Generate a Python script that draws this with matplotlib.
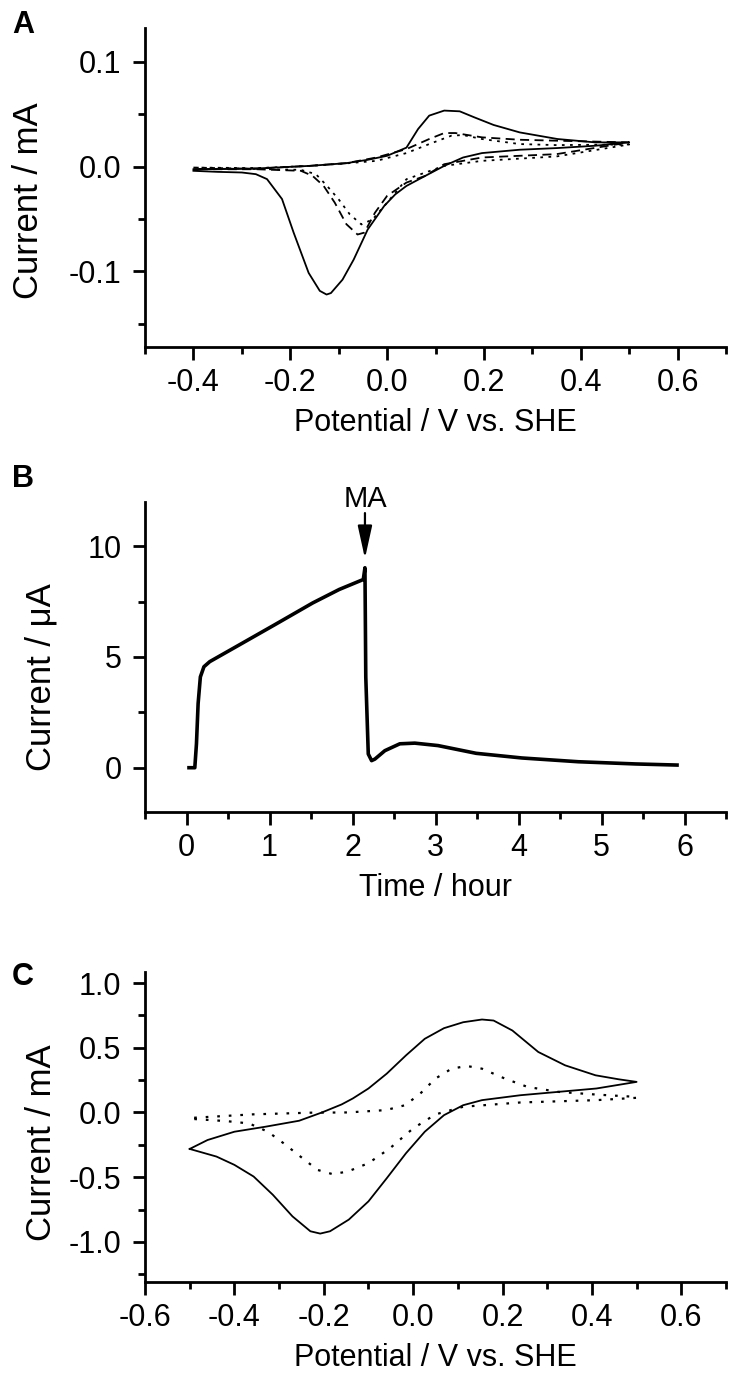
import matplotlib
matplotlib.use("Agg")
import matplotlib.pyplot as plt
from matplotlib.ticker import MultipleLocator

plt.rcParams['font.family'] = ['Liberation Sans', 'DejaVu Sans']

# ---- panel A: CVs (potential V vs SHE, current mA)
a_solid_v = [-0.40, -0.27, -0.16, -0.084, -0.04, 0.0, 0.04, 0.064, 0.087, 0.118, 0.15, 0.18, 0.22, 0.274, 0.352, 0.43, 0.50,
             0.43, 0.352, 0.274, 0.196, 0.157, 0.118, 0.079, 0.04, 0.017, -0.006, -0.04, -0.069, -0.092, -0.116, -0.125,
             -0.139, -0.162, -0.193, -0.217, -0.248, -0.271, -0.30, -0.35, -0.40]
a_solid_i = [-0.0026, -0.0019, 0.0006, 0.0032, 0.0064, 0.0102, 0.018, 0.0357, 0.0485, 0.0533, 0.0526, 0.0469, 0.0396, 0.0325, 0.0262, 0.023, 0.023,
             0.0198, 0.0176, 0.016, 0.0128, 0.0086, 0.0006, -0.0089, -0.0185, -0.0265, -0.0376, -0.060, -0.0887, -0.1078, -0.1206, -0.122,
             -0.1185, -0.1014, -0.063, -0.031, -0.012, -0.0073, -0.0057, -0.0051, -0.0041]

a_dash_v = [-0.40, -0.27, -0.16, -0.084, -0.022, 0.04, 0.087, 0.118, 0.141, 0.196, 0.274, 0.35, 0.50,
            0.35, 0.196, 0.118, 0.079, 0.04, 0.0, -0.025, -0.047, -0.061, -0.084, -0.108, -0.131, -0.154, -0.178, -0.27, -0.40]
a_dash_i = [-0.0026, -0.0019, 0.0006, 0.0032, 0.0086, 0.0166, 0.0262, 0.0319, 0.0319, 0.0278, 0.0255, 0.0246, 0.023,
            0.0118, 0.0086, 0.0022, -0.0089, -0.0153, -0.028, -0.044, -0.063, -0.0648, -0.055, -0.0345, -0.0185, -0.0089, -0.0041, -0.0026, -0.0026]

a_dot_v = [-0.40, -0.27, -0.16, -0.084, -0.022, 0.04, 0.087, 0.133, 0.157, 0.196, 0.274, 0.35, 0.50,
           0.35, 0.196, 0.118, 0.04, 0.0, -0.03, -0.053, -0.077, -0.10, -0.124, -0.147, -0.178, -0.40]
a_dot_i = [-0.001, -0.0015, 0.0006, 0.003, 0.0054, 0.0128, 0.0214, 0.0294, 0.030, 0.0262, 0.0214, 0.0204, 0.021,
           0.0096, 0.0054, 0.0006, -0.0121, -0.0345, -0.0504, -0.0552, -0.0456, -0.0313, -0.0185, -0.0073, -0.0032, -0.001]

# ---- panel B: chronoamperometry (hour, uA)
b_t = [0.03, 0.10, 0.12, 0.14, 0.167, 0.21, 0.28, 0.60, 1.06, 1.52, 1.84, 2.13, 2.15, 2.16, 2.19, 2.23, 2.27, 2.39, 2.57,
       2.75, 3.03, 3.49, 4.04, 4.72, 5.41, 5.91]
b_i = [0.0, 0.0, 1.08, 2.9, 4.1, 4.56, 4.79, 5.47, 6.45, 7.44, 8.05, 8.5, 9.03, 4.1, 0.62, 0.32, 0.39, 0.77, 1.08,
       1.11, 1.0, 0.65, 0.44, 0.27, 0.17, 0.12]
ma_time = 2.15  # methyl-amine (MA) addition

# ---- panel C: CVs (V vs SHE, mA)
c_solid_v = [-0.50, -0.46, -0.40, -0.33, -0.255, -0.204, -0.16, -0.135, -0.10, -0.059, -0.016, 0.026, 0.069, 0.112, 0.154,
             0.18, 0.222, 0.28, 0.34, 0.408, 0.46, 0.50,
             0.41, 0.325, 0.24, 0.154, 0.112, 0.069, 0.026, -0.016, -0.059, -0.10, -0.144, -0.186, -0.208, -0.23, -0.27,
             -0.314, -0.357, -0.40, -0.44, -0.50]
c_solid_i = [-0.282, -0.213, -0.149, -0.110, -0.064, 0.0, 0.062, 0.108, 0.185, 0.30, 0.441, 0.569, 0.651, 0.697, 0.718,
             0.71, 0.633, 0.467, 0.364, 0.287, 0.256, 0.236,
             0.185, 0.159, 0.133, 0.095, 0.056, -0.021, -0.149, -0.315, -0.508, -0.687, -0.828, -0.918, -0.936, -0.918, -0.803,
             -0.636, -0.495, -0.405, -0.341, -0.282]

c_dot_v = [-0.49, -0.36, -0.23, -0.146, -0.061, -0.018, 0.016, 0.05, 0.086, 0.12, 0.154, 0.205, 0.256, 0.325, 0.41, 0.50,
           0.50, 0.41, 0.24, 0.112, 0.05, 0.0, -0.052, -0.10, -0.146, -0.18, -0.214, -0.257, -0.29, -0.325, -0.367, -0.418, -0.49]
c_dot_i = [-0.041, -0.015, -0.002, 0.0, 0.018, 0.056, 0.146, 0.262, 0.338, 0.359, 0.338, 0.262, 0.197, 0.159, 0.138, 0.12,
           0.113, 0.095, 0.077, 0.044, -0.015, -0.123, -0.277, -0.392, -0.456, -0.477, -0.444, -0.328, -0.238, -0.149, -0.085, -0.067, -0.051]

W, H = 735, 1378
fig = plt.figure(figsize=(W / 100, H / 100), dpi=100)

TICK_FS = 22
LABEL_FS = 25

def make_axes(top, bottom):
    ax = fig.add_axes([145 / W, 1 - bottom / H, (726 - 145) / W, (bottom - top) / H])
    for s in ['top', 'right']:
        ax.spines[s].set_visible(False)
    for s in ['left', 'bottom']:
        ax.spines[s].set_linewidth(2.0)
    ax.tick_params(which='major', direction='out', length=9, width=2, labelsize=TICK_FS)
    ax.tick_params(which='minor', direction='out', length=5, width=2)
    ax.tick_params(axis='y', which='major', pad=8)
    ax.tick_params(axis='x', which='major', pad=6)
    return ax

# A
axA = make_axes(28, 347)
axA.plot(a_solid_v, a_solid_i, color='black', lw=1.3)
axA.plot(a_dash_v, a_dash_i, color='black', lw=1.3, ls=(0, (5, 3)))
axA.plot(a_dot_v, a_dot_i, color='black', lw=1.3, ls=(0, (1.5, 3)))
axA.set_xlim(-0.5, 0.7)
axA.set_ylim(-0.172, 0.132)
axA.xaxis.set_minor_locator(MultipleLocator(0.1))
axA.yaxis.set_minor_locator(MultipleLocator(0.05))
axA.set_xticks([-0.4, -0.2, 0.0, 0.2, 0.4, 0.6])
axA.set_xticklabels(['-0.4', '-0.2', '0.0', '0.2', '0.4', '0.6'])
axA.set_yticks([-0.1, 0.0, 0.1])
axA.set_yticklabels(['-0.1', '0.0', '0.1'])
axA.set_xlabel('Potential / V vs. SHE', fontsize=TICK_FS, labelpad=7)
axA.set_ylabel('Current / mA', fontsize=LABEL_FS)
axA.yaxis.set_label_coords(-0.172, 0.46)

# B
axB = make_axes(502, 812)
axB.plot(b_t, b_i, color='black', lw=2.6)
axB.set_xlim(-0.5, 6.5)
axB.set_ylim(-2, 12)
axB.xaxis.set_minor_locator(MultipleLocator(0.5))
axB.yaxis.set_minor_locator(MultipleLocator(2.5))
axB.set_xticks([0, 1, 2, 3, 4, 5, 6])
axB.set_yticks([0, 5, 10])
axB.set_xlabel('Time / hour', fontsize=TICK_FS, labelpad=7)
axB.set_ylabel('Current / μA', fontsize=LABEL_FS)
axB.yaxis.set_label_coords(-0.150, 0.435)
# arrow marking the MA addition
axB.annotate('', xy=(ma_time, 9.45), xytext=(ma_time, 11.5), annotation_clip=False,
             arrowprops=dict(arrowstyle='-|>,head_length=1.0,head_width=0.22', color='black', lw=1.6,
                             mutation_scale=20, shrinkA=0, shrinkB=0))
axB.text(ma_time, 12.15, 'MA', ha='center', va='center', fontsize=21, clip_on=False)

# C
axC = make_axes(972, 1282)
axC.plot(c_solid_v, c_solid_i, color='black', lw=1.3)
axC.plot(c_dot_v, c_dot_i, color='black', lw=1.6, ls=(0, (1.2, 4)))
axC.set_xlim(-0.6, 0.7)
axC.set_ylim(-1.31, 1.085)
axC.xaxis.set_minor_locator(MultipleLocator(0.1))
axC.yaxis.set_minor_locator(MultipleLocator(0.25))
axC.set_xticks([-0.6, -0.4, -0.2, 0.0, 0.2, 0.4, 0.6])
axC.set_xticklabels(['-0.6', '-0.4', '-0.2', '0.0', '0.2', '0.4', '0.6'])
axC.set_yticks([-1.0, -0.5, 0.0, 0.5, 1.0])
axC.set_yticklabels(['-1.0', '-0.5', '0.0', '0.5', '1.0'])
axC.set_xlabel('Potential / V vs. SHE', fontsize=TICK_FS, labelpad=7)
axC.set_ylabel('Current / mA', fontsize=LABEL_FS)
axC.yaxis.set_label_coords(-0.150, 0.448)

# panel letters
for lab, ypx in [('A', 33), ('B', 487), ('C', 985)]:
    fig.text(12 / W, 1 - ypx / H, lab, fontsize=22, fontweight='bold', ha='left', va='baseline')

fig.savefig('out.png', dpi=100)
